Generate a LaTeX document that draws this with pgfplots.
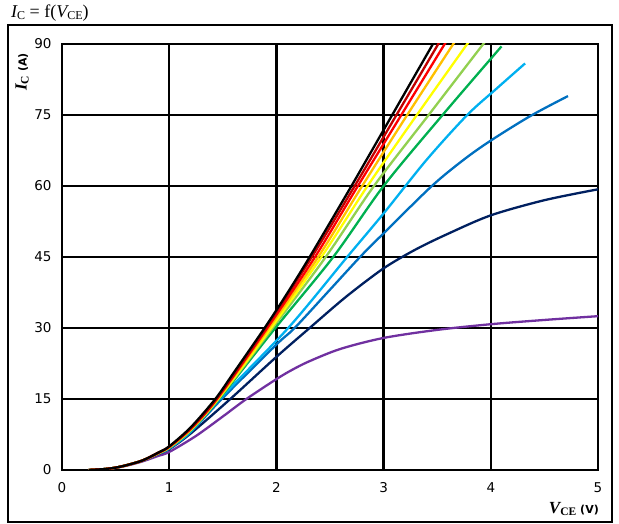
\documentclass[border=0pt]{standalone}
\usepackage{fontspec}
\usepackage{pgfplots}
\pgfplotsset{compat=1.18}
\newfontfamily\dejavu{DejaVu Sans}
\newfontfamily\lserif{Liberation Serif}
\definecolor{cpurple}{HTML}{7030A0}
\definecolor{cnavy}{HTML}{002060}
\definecolor{cblue}{HTML}{0070C0}
\definecolor{clblue}{HTML}{00B0F0}
\definecolor{cgreen}{HTML}{00B050}
\definecolor{clgreen}{HTML}{92D050}
\definecolor{cyellow}{HTML}{FFFF00}
\definecolor{corange}{HTML}{FFC000}
\definecolor{cred}{HTML}{FF0000}
\definecolor{cdred}{HTML}{C00000}
\begin{document}
\begin{tikzpicture}
\useasboundingbox (0,0) rectangle (619pt,524pt);
\draw[line width=1.6pt] (8pt,2pt) rectangle (612pt,499pt);
\node[anchor=west,inner sep=0pt] at (11pt,511pt) {\lserif\fontsize{18}{18}\selectfont{\itshape I}\raisebox{-2.5pt}{\fontsize{12}{12}\selectfont C} = f({\itshape V}\raisebox{-2.5pt}{\fontsize{12}{12}\selectfont CE})};
\node[rotate=90,inner sep=0pt] at (22pt,452pt) {{\lserif\bfseries\itshape\fontsize{17}{17}\selectfont I}\raisebox{-2pt}{\lserif\bfseries\fontsize{11.5}{11.5}\selectfont C}\hspace{4pt}{\dejavu\bfseries\fontsize{11}{11}\selectfont (A)}};
\node[anchor=east,inner sep=0pt] at (599pt,15pt) {{\lserif\bfseries\itshape\fontsize{17}{17}\selectfont V}\raisebox{-2pt}{\lserif\bfseries\fontsize{11.5}{11.5}\selectfont CE}\hspace{4pt}{\dejavu\bfseries\fontsize{11}{11}\selectfont (V)}};
\begin{axis}[at={(62pt,54pt)}, anchor=south west, scale only axis,
  width=536pt, height=426pt,
  xmin=0, xmax=5, ymin=0, ymax=90,
  xtick={0,1,2,3,4,5}, ytick={0,15,30,45,60,75,90},
  grid=major, major grid style={black, line width=2.3pt},
  axis line style={black, line width=2.3pt},
  tick style={draw=none},
  /pgf/number format/assume math mode=true,
  ticklabel style={font=\dejavu\fontsize{13.5}{13.5}\selectfont},
  xticklabel style={yshift=-9pt},
  yticklabel style={xshift=-7pt},
  every axis plot/.append style={line width=2.3pt, no marks, smooth, tension=0.5},
]
\addplot[cpurple] coordinates {(0.25,0) (0.4,0.2) (0.5,0.45) (0.6,0.9) (0.75,1.8) (0.9,3.0) (1.0,3.8) (1.25,7.2) (1.5,11.3) (1.72,15) (2.0,19.2) (2.15,21.2) (2.31,23.0) (2.6,25.6) (3.0,27.9) (3.5,29.6) (4.0,30.8) (4.5,31.7) (5.0,32.5)};
\addplot[cnavy] coordinates {(0.25,0) (0.4,0.2) (0.5,0.5) (0.6,1.0) (0.75,2.0) (0.9,3.4) (1.0,4.4) (1.2,7.7) (1.57,15) (2.0,23.9) (2.31,30) (2.65,36.6) (3.0,42.6) (3.3,46.6) (3.6,49.9) (4.0,53.8) (4.5,57.0) (5.0,59.3)};
\addplot[cblue] coordinates {(0.25,0) (0.4,0.2) (0.5,0.5) (0.6,1.0) (0.75,2.0) (0.9,3.5) (1.0,4.5) (1.2,8.0) (1.49,15) (2.0,26.5) (2.17,30) (2.5,38.1) (2.78,45) (3.0,50) (3.45,60) (3.75,65.6) (4.0,69.6) (4.37,74.8) (4.72,79)};
\addplot[clblue] coordinates {(0.25,0) (0.4,0.2) (0.5,0.5) (0.6,1.0) (0.75,2.0) (0.9,3.5) (1.0,4.6) (1.2,8.1) (1.47,15) (2.11,30) (2.66,45) (3.0,54.2) (3.4,65.5) (3.78,75) (4.05,80.5) (4.32,85.9)};
\addplot[cgreen] coordinates {(0.25,0) (0.4,0.2) (0.5,0.5) (0.6,1.0) (0.75,2.0) (0.9,3.5) (1.0,4.7) (1.2,8.3) (1.465,15) (1.99,30) (2.53,45) (3.0,60) (3.55,75) (4.1,89.5)};
\addplot[clgreen] coordinates {(0.25,0) (0.4,0.2) (0.5,0.5) (0.6,1.0) (0.75,2.0) (0.9,3.5) (1.0,4.7) (1.2,8.4) (1.46,15) (1.965,30) (2.46,45) (2.91,60) (3.42,75) (3.93,90) (3.97,91)};
\addplot[cyellow] coordinates {(0.25,0) (0.4,0.2) (0.5,0.5) (0.6,1.0) (0.75,2.0) (0.9,3.6) (1.0,4.8) (1.2,8.5) (1.455,15) (1.95,30) (2.42,45) (2.85,60) (3.31,75) (3.78,90) (3.82,91.2)};
\addplot[corange] coordinates {(0.25,0) (0.4,0.2) (0.5,0.5) (0.6,1.0) (0.75,2.0) (0.9,3.6) (1.0,4.8) (1.2,8.6) (1.45,15) (1.93,30) (2.39,45) (2.80,60) (3.22,75) (3.65,90) (3.69,91.3)};
\addplot[cred] coordinates {(0.25,0) (0.4,0.2) (0.5,0.5) (0.6,1.0) (0.75,2.0) (0.9,3.6) (1.0,4.9) (1.2,8.7) (1.445,15) (1.915,30) (2.36,45) (2.76,60) (3.165,75) (3.57,90) (3.61,91.4)};
\addplot[cdred] coordinates {(0.25,0) (0.4,0.2) (0.5,0.5) (0.6,1.0) (0.75,2.0) (0.9,3.7) (1.0,4.9) (1.2,8.8) (1.44,15) (1.9,30) (2.33,45) (2.73,60) (3.12,75) (3.51,90) (3.55,91.5)};
\addplot[black] coordinates {(0.25,0) (0.4,0.2) (0.5,0.5) (0.6,1.0) (0.75,2.0) (0.9,3.7) (1.0,5.0) (1.2,9.0) (1.43,15) (1.6,20.5) (1.89,30) (2.1,37.3) (2.31,45) (2.7,60) (3.08,75) (3.46,90) (3.5,91.6)};
\end{axis}
\end{tikzpicture}
\end{document}
